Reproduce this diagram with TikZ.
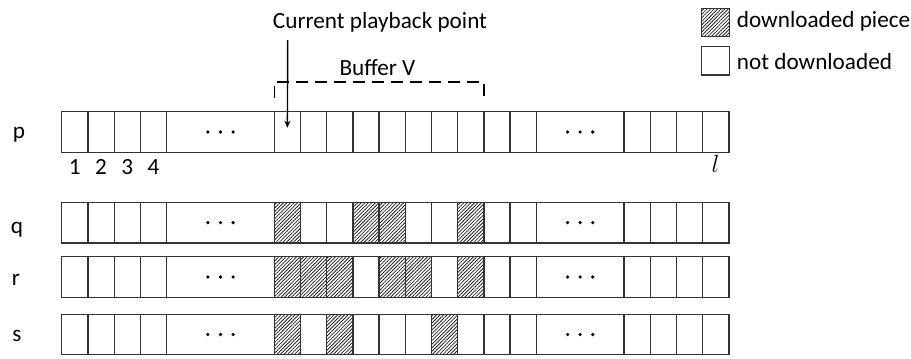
\documentclass[tikz,border=0pt]{standalone}
\usepackage{fontspec}
\setmainfont{Carlito}
\usetikzlibrary{patterns.meta,arrows.meta}
\begin{document}
\begin{tikzpicture}[x=1pt,y=-1pt,
  cell/.style={draw=black!80, line width=1.35pt, minimum width=26.2pt,
    minimum height=40.5pt, inner sep=0pt, outer sep=0pt},
  gapbox/.style={cell},
  got/.style={cell, pattern={Lines[angle=45,distance=2.5pt,line width=0.8pt]},
    pattern color=black!85},
  lbl/.style={font=\fontsize{23.2}{26}\selectfont, inner sep=0pt},
  dot/.style={fill=black, radius=1.8pt},
  buf/.style={line width=1.6pt, dash pattern=on 12pt off 7pt},
  pointer/.style={line width=1.4pt, -{Stealth[length=7pt,width=6pt]}},
  ]
\useasboundingbox (0,0) rectangle (911,359);

% four piece rows: first four pieces, a gap, ten pieces, a gap, last four pieces
\foreach \rn/\y/\styles in {
  p/132/{cell,cell,cell,cell,cell,cell,cell,cell,cell,cell},
  q/222.6/{got,cell,cell,got,got,cell,cell,got,cell,cell},
  r/277/{got,got,got,cell,got,got,cell,got,cell,cell},
  s/334.5/{got,cell,got,cell,cell,cell,got,cell,cell,cell}} {
  \foreach \k in {1,...,4}
    \node[cell, minimum width=26.25pt] (\rn-a\k) at (48.575+26.25*\k, \y) {};
  \node[gapbox, minimum width=107.7pt] (\rn-d1) at (220.5, \y) {};
  \foreach \s [count=\k from 0] in \styles
    \node[\s] (\rn-m\k) at (287.4+26.2*\k, \y) {};
  \node[gapbox, minimum width=87.7pt] (\rn-d2) at (580.15, \y) {};
  \foreach \k in {1,...,4}
    \node[cell, minimum width=26.25pt] (\rn-b\k) at (610.875+26.25*\k, \y) {};
  \foreach \dx in {-12.6,0,12.6} {
    \fill[dot] ([xshift=\dx pt]\rn-d1.center) circle;
    \fill[dot] ([xshift=\dx pt]\rn-d2.center) circle;
  }
}

% row names
\node[lbl, anchor=base] (np) at (19,138) {p};
\node[lbl, anchor=base] (nq) at (17,233) {q};
\node[lbl, anchor=base] (nr) at (16,285) {r};
\node[lbl, anchor=base] (ns) at (17,341.7) {s};

% piece indices
\foreach \k in {1,...,4}
  \node[lbl, anchor=base] (idx\k) at (p-a\k.center |- 0,174) {\k};
\node[lbl, anchor=base, font=\fontsize{23}{26}\selectfont] (idxl) at (715.5,172.7) {$l$};

% playback pointer
\node[lbl] (cpp) at (380,22.7) {Current playback point};
\coordinate (cpptop) at (287.7,40);
\draw[pointer] (cpptop) -- ([yshift=4.3pt]p-m0.center);

% buffer bracket
\node[lbl] (bufv) at (377.5,68) {Buffer V};
\draw[buf] ([yshift=13.7pt]p-m0.north west) -- ++(0,-16) -| ([yshift=13.7pt]p-m8.north west);

% legend
\node[got, minimum width=27.6pt, minimum height=28.4pt] (leg1) at (715.5,22.5) {};
\node[cell, minimum width=27.6pt, minimum height=28.4pt] (leg2) at (715.5,60.8) {};
\node[lbl, anchor=west] (legt1) at (736.7,21.7) {downloaded piece};
\node[lbl, anchor=west] (legt2) at (736.7,61.7) {not downloaded};
\end{tikzpicture}
\end{document}
